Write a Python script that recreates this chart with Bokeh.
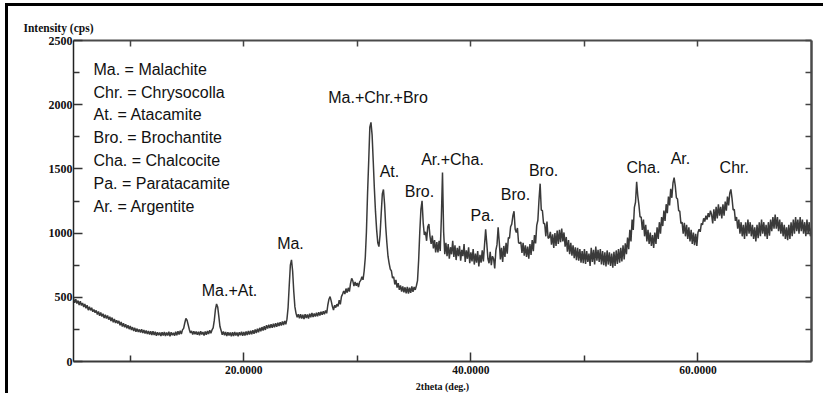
from bokeh.plotting import figure
from bokeh.models import FixedTicker, LinearAxis, Range1d, NumeralTickFormatter, CustomJSTickFormatter
from bokeh.embed import file_html
from bokeh.resources import INLINE
from bokeh.core.properties import value

# ---- data: XRD scan, 2theta from 5.0 deg in 0.1 deg steps ----
scan_start = 5.0
scan_step = 0.1
intensity = [
    492, 458, 485, 452, 474, 440, 470, 436, 456, 425,   # 5
    448, 414, 438, 400, 426, 398, 418, 388, 405, 380,   # 6
    398, 366, 390, 356, 382, 350, 372, 338, 364, 334,   # 7
    358, 326, 348, 316, 342, 305, 332, 300, 322, 296,   # 8
    316, 282, 308, 272, 298, 266, 290, 258, 283, 252,   # 9
    276, 246, 268, 238, 262, 232, 256, 230, 250, 226,   # 10
    252, 222, 246, 218, 242, 214, 238, 210, 236, 206,   # 11
    236, 206, 232, 200, 228, 204, 226, 198, 228, 202,   # 12
    230, 198, 226, 202, 232, 196, 228, 204, 224, 200,   # 13
    232, 204, 236, 210, 240, 214, 246, 258, 300, 335,   # 14
    322, 286, 250, 222, 238, 210, 236, 212, 234, 208,   # 15
    232, 204, 236, 210, 230, 202, 234, 208, 238, 214,   # 16
    244, 220, 246, 262, 320, 405, 448, 425, 352, 272,   # 17
    242, 208, 234, 204, 230, 198, 228, 202, 226, 196,   # 18
    228, 198, 230, 202, 226, 196, 228, 204, 232, 200,   # 19
    230, 202, 234, 206, 238, 210, 240, 212, 244, 216,   # 20
    250, 222, 256, 228, 262, 236, 268, 242, 274, 246,   # 21
    282, 256, 286, 260, 290, 262, 294, 266, 298, 270,   # 22
    302, 276, 306, 280, 312, 284, 316, 290, 330, 420,   # 23
    590, 750, 792, 705, 545, 425, 375, 345, 368, 336,   # 24
    368, 334, 364, 330, 368, 338, 366, 334, 372, 344,   # 25
    378, 346, 374, 350, 380, 352, 384, 358, 388, 364,   # 26
    392, 368, 398, 375, 440, 485, 505, 470, 430, 400,   # 27
    438, 420, 446, 430, 478, 445, 505, 525, 548, 525,   # 28
    568, 536, 574, 545, 608, 648, 628, 588, 620, 590,   # 29
    612, 580, 620, 632, 660, 636, 705, 810, 1010, 1310,        # 30
    1560, 1825, 1862, 1765, 1560, 1345, 1165, 1025, 925, 895,  # 31
    985, 1150, 1305, 1340, 1225, 1050, 925, 820, 765, 720,     # 32
    705, 650, 660, 600, 635, 575, 610, 558, 592, 545,   # 33
    585, 538, 578, 530, 582, 528, 575, 535, 585, 542,   # 34
    580, 558, 590, 630, 790, 1010, 1185, 1252, 1080, 985,      # 35
    1010, 940, 1050, 1070, 975, 915, 980, 880, 945, 850,       # 36
    930, 850, 940, 860, 1120, 1472, 1010, 835, 925, 820,       # 37
    915, 800, 890, 835, 940, 815, 905, 790, 885, 820,   # 38
    900, 785, 870, 820, 915, 775, 865, 800, 890, 765,   # 39
    850, 780, 875, 755, 840, 770, 860, 740, 830, 770,   # 40
    865, 780, 905, 1030, 920, 800, 765, 855, 750, 820,  # 41
    800, 725, 865, 910, 1045, 930, 795, 885, 775, 900,  # 42
    815, 925, 840, 965, 960, 1050, 1070, 1135, 1170, 1030,     # 43
    1005, 1040, 925, 920, 930, 845, 925, 825, 905, 815,        # 44
    895, 800, 915, 830, 945, 860, 985, 920, 1060, 1100,        # 45
    1260, 1385, 1180, 1175, 1075, 1075, 975, 1090, 960, 965,   # 46
    1010, 910, 990, 885, 1000, 900, 1020, 915, 1025, 930,      # 47
    1035, 935, 1005, 895, 970, 855, 945, 835, 925, 825,        # 48
    905, 805, 890, 790, 885, 785, 875, 770, 860, 765,   # 49
    875, 760, 860, 775, 840, 745, 885, 775, 870, 755,   # 50
    895, 785, 870, 775, 875, 755, 860, 750, 850, 740,   # 51
    865, 755, 850, 745, 840, 730, 855, 745, 865, 760,   # 52
    875, 770, 885, 780, 905, 795, 920, 835, 965, 875,   # 53
    1025, 935, 1105, 1025, 1200, 1240, 1400, 1290, 1220, 1125, # 54
    1125, 1025, 1105, 975, 1065, 935, 1025, 915, 1005, 900,    # 55
    985, 885, 1005, 915, 1045, 955, 1085, 995, 1125, 1055,     # 56
    1175, 1095, 1225, 1155, 1285, 1215, 1345, 1275, 1390, 1432, # 57
    1370, 1275, 1265, 1175, 1170, 1075, 1085, 995, 1080, 975,  # 58
    1065, 955, 1045, 935, 1025, 915, 1005, 905, 995, 900,      # 59
    1005, 1030, 1010, 1075, 1065, 1115, 1090, 1135, 1105, 1155, # 60
    1125, 1175, 1145, 1075, 1185, 1095, 1205, 1115, 1225, 1135, # 61
    1205, 1115, 1225, 1135, 1245, 1175, 1285, 1215, 1310, 1340, # 62
    1270, 1180, 1185, 1095, 1125, 1035, 1105, 995, 1085, 975,  # 63
    1065, 955, 1085, 975, 1105, 995, 1085, 975, 1065, 955,     # 64
    1045, 935, 1065, 960, 1085, 975, 1105, 995, 1085, 975,     # 65
    1065, 955, 1085, 980, 1105, 1015, 1125, 1035, 1145, 1035,  # 66
    1125, 1015, 1105, 995, 1085, 975, 1065, 955, 1045, 945,    # 67
    1065, 955, 1085, 975, 1105, 995, 1125, 1015, 1105, 995,    # 68
    1125, 1015, 1105, 995, 1085, 975, 1105, 995, 1085, 975,    # 69
    1040,                                                      # 70
]
two_theta = [round(scan_start + i * scan_step, 2) for i in range(len(intensity))]

x_ticks_major = [20, 40, 60]
x_ticks_minor = [10, 30, 50]
top_ticks = [10, 20, 30, 40, 50, 60]
y_ticks_major = [0, 500, 1000, 1500, 2000, 2500]
y_ticks_minor = [250, 750, 1250, 1750, 2250]

legend_lines = [
    "Ma. = Malachite",
    "Chr. = Chrysocolla",
    "At. = Atacamite",
    "Bro. = Brochantite",
    "Cha. = Chalcocite",
    "Pa. = Paratacamite",
    "Ar. = Argentite",
]
legend_x = [6.76] * len(legend_lines)
legend_y = [2274, 2095, 1924, 1745, 1565, 1386, 1207]

peak_labels = ["Ma.+At.", "Ma.", "Ma.+Chr.+Bro", "At.", "Bro.", "Ar.+Cha.",
               "Pa.", "Bro.", "Bro.", "Cha.", "Ar.", "Chr."]
peak_label_x = [18.74, 24.11, 31.82, 32.83, 35.47, 38.38, 41.02, 43.93, 46.4, 55.2, 58.46, 63.2]
peak_label_y = [553, 919, 2056, 1480, 1324, 1573, 1137, 1300, 1487, 1511, 1581, 1511]

# ---- figure ----
p = figure(width=818, height=390, x_range=Range1d(5, 70), y_range=Range1d(0, 2500),
           output_backend="svg", toolbar_location=None,
           min_border_left=65, min_border_right=15, min_border_top=34, min_border_bottom=35)
p.styles = {"margin-left": "8px", "margin-top": "6px", "box-shadow": "-3px -3px 0 0 #000"}
p.outline_line_color = None
p.xgrid.visible = False
p.ygrid.visible = False
p.background_fill_color = "white"
p.border_fill_color = "white"

serif = "Liberation Serif"

p.title.text = "Intensity (cps)"
p.title.text_font = serif
p.title.text_font_size = "11.5px"
p.title.text_font_style = "bold"
p.title.text_color = "#111111"
p.title.align = "left"
p.title.offset = -50
p.title.standoff = 13

no_labels = CustomJSTickFormatter(code="return ''")

xa = p.xaxis[0]
xa.ticker = FixedTicker(ticks=x_ticks_major, minor_ticks=x_ticks_minor)
xa.formatter = NumeralTickFormatter(format="0.0000")
xa.major_tick_in = 9
xa.major_tick_out = 0
xa.minor_tick_in = 6
xa.minor_tick_out = 0
xa.axis_line_color = "#3a3a3a"
xa.axis_line_width = 2
xa.major_tick_line_color = "#333333"
xa.minor_tick_line_color = "#333333"
xa.major_tick_line_width = 1.5
xa.minor_tick_line_width = 1.5
xa.major_label_text_font = serif
xa.major_label_text_font_size = "11.5px"
xa.major_label_text_font_style = "bold"
xa.major_label_text_color = "#111111"
xa.major_label_standoff = 4
xa.axis_label = "2theta (deg.)"
xa.axis_label_text_font = serif
xa.axis_label_text_font_size = "10px"
xa.axis_label_text_font_style = "bold"
xa.axis_label_text_color = "#111111"
xa.axis_label_standoff = 4

ya = p.yaxis[0]
ya.ticker = FixedTicker(ticks=y_ticks_major, minor_ticks=y_ticks_minor)
ya.major_tick_in = 9
ya.major_tick_out = 0
ya.minor_tick_in = 6
ya.minor_tick_out = 0
ya.axis_line_color = "#222222"
ya.axis_line_width = 1.5
ya.major_tick_line_color = "#333333"
ya.minor_tick_line_color = "#333333"
ya.major_tick_line_width = 1.5
ya.minor_tick_line_width = 1.5
ya.major_label_text_font = serif
ya.major_label_text_font_size = "12px"
ya.major_label_text_font_style = "bold"
ya.major_label_text_color = "#111111"
ya.major_label_standoff = 1

top_axis = LinearAxis(ticker=FixedTicker(ticks=top_ticks, minor_ticks=[]),
                      formatter=no_labels, major_label_standoff=0,
                      major_tick_in=6, major_tick_out=0,
                      minor_tick_in=0, minor_tick_out=0,
                      axis_line_color="#4a4a4a", axis_line_width=2,
                      major_tick_line_color="#444444", major_tick_line_width=1.5)
p.add_layout(top_axis, "above")

right_axis = LinearAxis(ticker=FixedTicker(ticks=y_ticks_major + y_ticks_minor, minor_ticks=[]),
                        formatter=no_labels, major_label_standoff=0,
                        major_tick_in=6, major_tick_out=0,
                        minor_tick_in=0, minor_tick_out=0,
                        axis_line_color="#4a4a4a", axis_line_width=2.5,
                        major_tick_line_color="#444444", major_tick_line_width=1.5)
p.add_layout(right_axis, "right")

# ---- pattern ----
p.line(two_theta, intensity, line_color="#3a3a3a", line_width=1.5)

# ---- texts ----
sans = value("Liberation Sans")
p.text(x=legend_x, y=legend_y, text=legend_lines, text_font=sans, text_font_size="16px",
       text_align="left", text_baseline="middle", text_color="#111111")
p.text(x=peak_label_x, y=peak_label_y, text=peak_labels, text_font=sans, text_font_size="16px",
       text_align="center", text_baseline="middle", text_color="#111111")

open("out.html", "w").write(file_html(p, INLINE))
